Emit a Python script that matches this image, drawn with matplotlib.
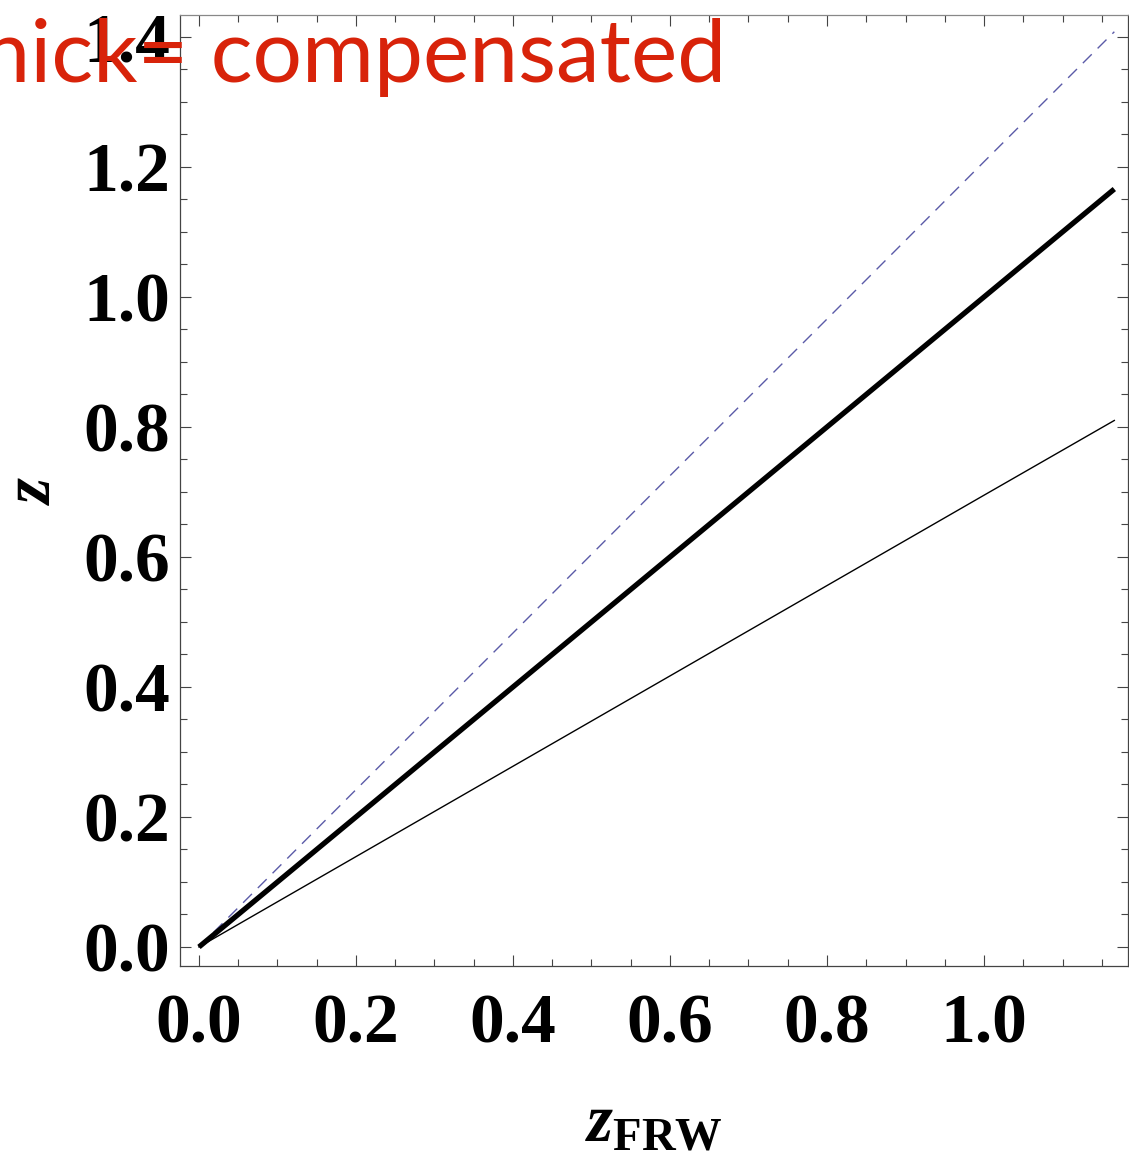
import numpy as np
import matplotlib.pyplot as plt

plt.rcParams['mathtext.fontset'] = 'custom'
plt.rcParams['mathtext.rm'] = 'Liberation Serif:bold'
plt.rcParams['mathtext.it'] = 'Liberation Serif:italic:bold'
plt.rcParams['mathtext.bf'] = 'Liberation Serif:bold'

# Data (straight lines from the origin)
z_frw = [0.0, 0.2, 0.4, 0.6, 0.8, 1.0, 1.166]
z_dashed = [0.0, 0.242, 0.483, 0.725, 0.966, 1.208, 1.408]
z_thick = [0.0, 0.2, 0.4, 0.6, 0.8, 1.0, 1.166]
z_thin = [0.0, 0.139, 0.278, 0.417, 0.556, 0.695, 0.810]

xticks = [0.0, 0.2, 0.4, 0.6, 0.8, 1.0]
yticks = [0.0, 0.2, 0.4, 0.6, 0.8, 1.0, 1.2, 1.4]

fig = plt.figure(figsize=(11.29, 11.52), dpi=100)
ax = fig.add_axes([0.1594, 0.1615, 0.8397, 0.8255])

ax.plot(z_frw, z_dashed, color='#5b5ba8', lw=1.0, dashes=(9, 6))
ax.plot(z_frw, z_thick, color='black', lw=3.8, solid_capstyle='butt')
ax.plot(z_frw, z_thin, color='black', lw=1.0)

ax.set_xlim(-0.0242, 1.1834)
ax.set_ylim(-0.0292, 1.4338)

ax.set_xticks(xticks)
ax.set_xticklabels(['%.1f' % v for v in xticks])
ax.set_yticks(yticks)
ax.set_yticklabels(['%.1f' % v for v in yticks])
ax.set_xticks(np.arange(0, 1.2, 0.05), minor=True)
ax.set_yticks(np.arange(0, 1.45, 0.05), minor=True)

ax.tick_params(which='both', direction='in', top=True, right=True,
               color='#444444', width=0.8)
ax.tick_params(which='major', length=8)
ax.tick_params(which='minor', length=5)
ax.tick_params(axis='x', which='major', pad=20)
ax.tick_params(axis='y', which='major', pad=7)

for lab in ax.get_xticklabels() + ax.get_yticklabels():
    lab.set_fontfamily('Liberation Serif')
    lab.set_fontweight('bold')
    lab.set_fontsize(50)

for s in ax.spines.values():
    s.set_color('#444444')
    s.set_linewidth(0.9)
ax.spines['top'].set_color('#888888')

ax.set_xlabel(r'$z_{\mathrm{FRW}}$', fontsize=48, labelpad=22)
ax.set_ylabel(r'$z$', fontsize=48, labelpad=14)

fig.text(726 / 1129, 1 - 82 / 1152, 'thick= compensated', color='#d8230a',
         family='Lato', fontsize=63, ha='right', va='baseline', zorder=10)

fig.savefig('out.png', dpi=100)
